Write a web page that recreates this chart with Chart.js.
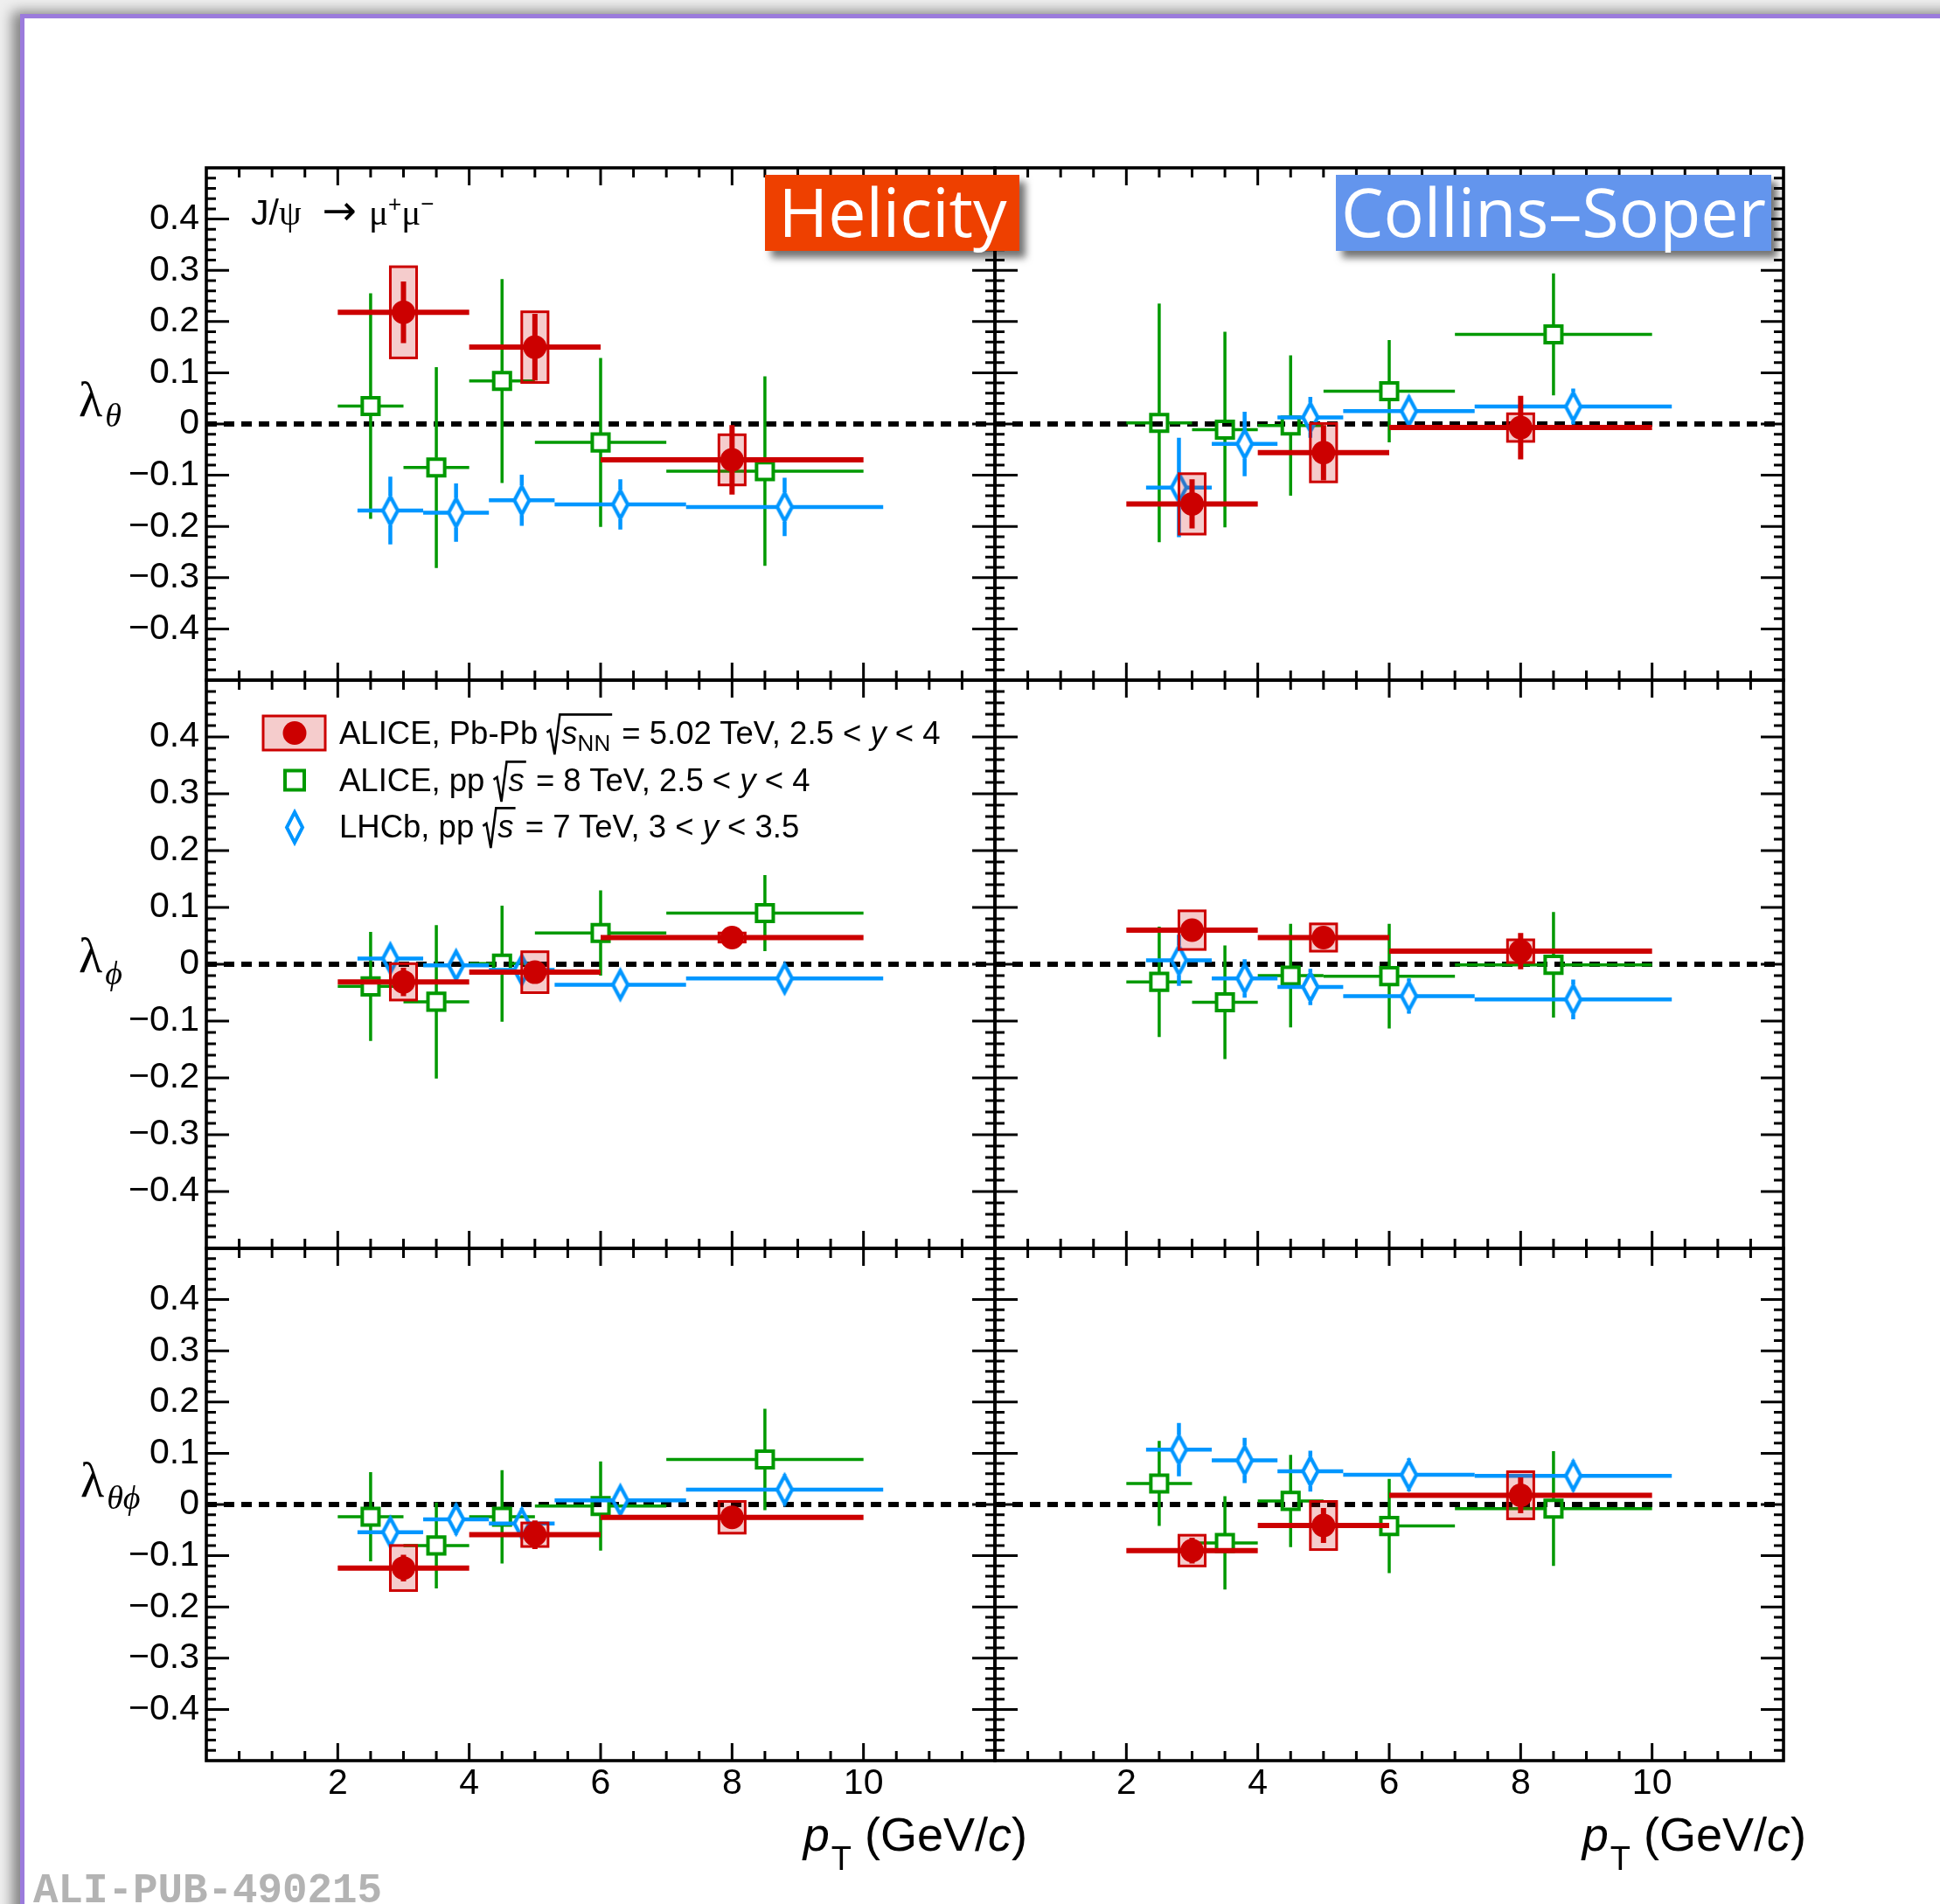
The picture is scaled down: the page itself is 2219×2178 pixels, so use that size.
<!DOCTYPE html>
<html>
<head>
<meta charset="utf-8">
<title>J/psi polarization vs pT</title>
<script src="https://cdn.jsdelivr.net/npm/chart.js@4.4.1/dist/chart.umd.min.js"></script>
<style>
  html, body { margin: 0; padding: 0; }
  body { width: 2219px; height: 2178px; overflow: hidden; position: relative; background: #efefef; }
  #slide { position: absolute; left: 23px; top: 16px; width: 2300px; height: 2300px; background: #fff;
           border-top: 5px solid #9b7bdc; border-left: 5px solid #9b7bdc;
           box-shadow: -9px -3px 14px rgba(0,0,0,0.45); }
  canvas { position: absolute; }
  #ov { position: absolute; left: 0; top: 0; }
</style>
</head>
<body>
<div id="slide"></div>
<canvas id="p00"></canvas>
<canvas id="p01"></canvas>
<canvas id="p10"></canvas>
<canvas id="p11"></canvas>
<canvas id="p20"></canvas>
<canvas id="p21"></canvas>
<svg id="ov" width="2219" height="2178" xmlns="http://www.w3.org/2000/svg">
  <defs>
    <filter id="shadow" x="-10%" y="-20%" width="130%" height="160%">
      <feDropShadow dx="7" dy="8" stdDeviation="4" flood-color="#000" flood-opacity="0.55"/>
    </filter>
  </defs>
</svg>
<script>
// pT bins (GeV/c)
const pbpbPt = [3, 5, 8];
const pbpbLo = [2, 4, 6];
const pbpbHi = [4, 6, 10];
const ppPt = [2.5, 3.5, 4.5, 6, 8.5];
const ppLo = [2, 3, 4, 5, 7];
const ppHi = [3, 4, 5, 7, 10];
// LHCb points are shifted by +0.3 GeV/c for visibility
const lhcbPt = [2.8, 3.8, 4.8, 6.3, 8.8];
const lhcbLo = [2.3, 3.3, 4.3, 5.3, 7.3];
const lhcbHi = [3.3, 4.3, 5.3, 7.3, 10.3];

const xTicks = [2, 4, 6, 8, 10];
const yTicks = [0.4, 0.3, 0.2, 0.1, 0, -0.1, -0.2, -0.3, -0.4];

// lambda_theta, helicity
const helThPbPb = [0.218, 0.150, -0.070];
const helThPbPbStat = [0.060, 0.065, 0.068];
const helThPbPbSys = [0.089, 0.069, 0.049];
const helThPp = [0.035, -0.085, 0.084, -0.036, -0.092];
const helThPpErr = [0.220, 0.196, 0.199, 0.165, 0.185];
const helThLhcb = [-0.169, -0.173, -0.149, -0.157, -0.162];
const helThLhcbErr = [0.066, 0.057, 0.050, 0.049, 0.057];

// lambda_theta, Collins-Soper
const csThPbPb = [-0.156, -0.056, -0.007];
const csThPbPbStat = [0.048, 0.054, 0.062];
const csThPbPbSys = [0.059, 0.057, 0.027];
const csThPp = [0.002, -0.011, -0.003, 0.064, 0.175];
const csThPpErr = [0.233, 0.191, 0.137, 0.100, 0.119];
const csThLhcb = [-0.124, -0.039, 0.013, 0.025, 0.034];
const csThLhcbErr = [0.097, 0.063, 0.040, 0.030, 0.035];

// lambda_phi, helicity
const helPhPbPb = [-0.031, -0.014, 0.047];
const helPhPbPbStat = [0.025, 0.020, 0.010];
const helPhPbPbSys = [0.032, 0.036, 0.008];
const helPhPp = [-0.039, -0.066, 0.001, 0.055, 0.090];
const helPhPpErr = [0.096, 0.135, 0.102, 0.075, 0.067];
const helPhLhcb = [0.010, -0.002, -0.010, -0.036, -0.025];
const helPhLhcbErr = [0.020, 0.020, 0.020, 0.020, 0.025];

// lambda_phi, Collins-Soper
const csPhPbPb = [0.060, 0.047, 0.023];
const csPhPbPbStat = [0.020, 0.015, 0.032];
const csPhPbPbSys = [0.034, 0.024, 0.020];
const csPhPp = [-0.031, -0.067, -0.020, -0.021, -0.001];
const csPhPpErr = [0.097, 0.100, 0.091, 0.092, 0.093];
const csPhLhcb = [0.007, -0.025, -0.040, -0.056, -0.062];
const csPhLhcbErr = [0.045, 0.034, 0.032, 0.031, 0.035];

// lambda_thetaphi, helicity
const helTpPbPb = [-0.124, -0.059, -0.025];
const helTpPbPbStat = [0.026, 0.028, 0.020];
const helTpPbPbSys = [0.044, 0.023, 0.031];
const helTpPp = [-0.024, -0.080, -0.024, -0.003, 0.088];
const helTpPpErr = [0.087, 0.084, 0.091, 0.087, 0.099];
const helTpLhcb = [-0.054, -0.029, -0.037, 0.008, 0.029];
const helTpLhcbErr = [0.025, 0.030, 0.030, 0.025, 0.030];

// lambda_thetaphi, Collins-Soper
const csTpPbPb = [-0.090, -0.041, 0.018];
const csTpPbPbStat = [0.025, 0.034, 0.035];
const csTpPbPbSys = [0.030, 0.047, 0.046];
const csTpPp = [0.041, -0.075, 0.007, -0.042, -0.008];
const csTpPpErr = [0.083, 0.091, 0.090, 0.092, 0.112];
const csTpLhcb = [0.107, 0.086, 0.065, 0.058, 0.056];
const csTpLhcbErr = [0.052, 0.044, 0.040, 0.032, 0.030];

const RED = '#cc0000';
const GREEN = '#009900';
const BLUE = '#0096ff';
const SANS = "'Liberation Sans', Arial, Helvetica, sans-serif";
const SERIF = "'Liberation Serif', 'Times New Roman', 'DejaVu Serif', serif";

Chart.defaults.font.family = SANS;
Chart.defaults.color = '#000';

// frame edges in page pixels
const colX = [236, 1138, 2040];
const rowY = [192, 778, 1428, 2014];

const panels = [
  { id: 'p00', row: 0, col: 0, pbpb: [helThPbPb, helThPbPbStat, helThPbPbSys], pp: [helThPp, helThPpErr], lhcb: [helThLhcb, helThLhcbErr] },
  { id: 'p01', row: 0, col: 1, pbpb: [csThPbPb, csThPbPbStat, csThPbPbSys], pp: [csThPp, csThPpErr], lhcb: [csThLhcb, csThLhcbErr] },
  { id: 'p10', row: 1, col: 0, pbpb: [helPhPbPb, helPhPbPbStat, helPhPbPbSys], pp: [helPhPp, helPhPpErr], lhcb: [helPhLhcb, helPhLhcbErr] },
  { id: 'p11', row: 1, col: 1, pbpb: [csPhPbPb, csPhPbPbStat, csPhPbPbSys], pp: [csPhPp, csPhPpErr], lhcb: [csPhLhcb, csPhLhcbErr] },
  { id: 'p20', row: 2, col: 0, pbpb: [helTpPbPb, helTpPbPbStat, helTpPbPbSys], pp: [helTpPp, helTpPpErr], lhcb: [helTpLhcb, helTpLhcbErr] },
  { id: 'p21', row: 2, col: 1, pbpb: [csTpPbPb, csTpPbPbStat, csTpPbPbSys], pp: [csTpPp, csTpPpErr], lhcb: [csTpLhcb, csTpLhcbErr] }
];

// open diamond marker, taller than wide like the ROOT one
function makeDiamond() {
  const c = document.createElement('canvas');
  c.width = 28; c.height = 42;
  const g = c.getContext('2d');
  g.strokeStyle = BLUE;
  g.lineWidth = 4.2;
  g.lineJoin = 'miter';
  g.beginPath();
  g.moveTo(14, 5); g.lineTo(22.5, 21); g.lineTo(14, 37); g.lineTo(5.5, 21);
  g.closePath();
  g.stroke();
  return c;
}
const diamond = makeDiamond();

// error bars (and systematic boxes) are drawn just before each dataset's markers
const errorBars = {
  id: 'errorBars',
  beforeDatasetDraw(chart, args) {
    const ds = chart.data.datasets[args.index];
    const { ctx, scales: { x, y } } = chart;
    ctx.save();
    ds.data.forEach((p, i) => {
      const px = x.getPixelForValue(p.x);
      const py = y.getPixelForValue(p.y);
      if (ds.sys) {
        const bx0 = x.getPixelForValue(p.x - 0.2), bx1 = x.getPixelForValue(p.x + 0.2);
        const by0 = y.getPixelForValue(p.y + ds.sys[i]), by1 = y.getPixelForValue(p.y - ds.sys[i]);
        ctx.fillStyle = 'rgba(204,0,0,0.2)';
        ctx.fillRect(bx0, by0, bx1 - bx0, by1 - by0);
        ctx.strokeStyle = RED;
        ctx.lineWidth = 3;
        ctx.strokeRect(bx0, by0, bx1 - bx0, by1 - by0);
      }
      const xl = x.getPixelForValue(ds.xLo[i]);
      const xh = x.getPixelForValue(ds.xHi[i]);
      const yt = y.getPixelForValue(p.y + ds.yErr[i]);
      const yb = y.getPixelForValue(p.y - ds.yErr[i]);
      ctx.strokeStyle = ds.errColor;
      ctx.lineWidth = ds.errWidth;
      ctx.lineCap = 'butt';
      ctx.beginPath();
      if (px - ds.gapX > xl) { ctx.moveTo(xl, py); ctx.lineTo(px - ds.gapX, py); }
      if (xh > px + ds.gapX) { ctx.moveTo(px + ds.gapX, py); ctx.lineTo(xh, py); }
      if (py - ds.gapY > yt) {
        ctx.moveTo(px, yt); ctx.lineTo(px, py - ds.gapY);
        ctx.moveTo(px, py + ds.gapY); ctx.lineTo(px, yb);
      }
      ctx.stroke();
    });
    ctx.restore();
  }
};

// ROOT-like frame: inward ticks on all four sides, dashed zero line
const rootFrame = {
  id: 'rootFrame',
  beforeDatasetsDraw(chart) {
    const { ctx, chartArea: a, scales: { y } } = chart;
    const y0 = y.getPixelForValue(0);
    ctx.save();
    ctx.strokeStyle = '#000';
    ctx.lineWidth = 6;
    ctx.setLineDash([12, 8]);
    ctx.beginPath();
    ctx.moveTo(a.left, y0);
    ctx.lineTo(a.right, y0);
    ctx.stroke();
    ctx.restore();
  },
  afterDatasetsDraw(chart) {
    const { ctx, chartArea: a, scales: { x, y } } = chart;
    ctx.save();
    ctx.strokeStyle = '#000';
    ctx.lineWidth = 3;
    ctx.beginPath();
    for (let i = 1; i < 24; i++) {
      const px = x.getPixelForValue(i * 0.5);
      const len = i % 4 === 0 ? 20 : 11;
      ctx.moveTo(px, a.bottom); ctx.lineTo(px, a.bottom - len);
      ctx.moveTo(px, a.top); ctx.lineTo(px, a.top + len);
    }
    for (let i = -24; i <= 24; i++) {
      const py = y.getPixelForValue(i * 0.02);
      const len = i % 5 === 0 ? 26 : 11;
      ctx.moveTo(a.left, py); ctx.lineTo(a.left + len, py);
      ctx.moveTo(a.right, py); ctx.lineTo(a.right - len, py);
    }
    ctx.stroke();
    ctx.lineWidth = 3.6;
    ctx.strokeRect(a.left, a.top, a.right - a.left, a.bottom - a.top);
    ctx.restore();
  }
};

function pts(xs, ys) {
  return xs.map((v, i) => ({ x: v, y: ys[i] }));
}

function fmtY(v) {
  if (Math.abs(v) < 1e-9) return '0';
  return (v < 0 ? '\u2212' : '') + Math.abs(v).toFixed(1);
}

panels.forEach(p => {
  const fx0 = colX[p.col], fx1 = colX[p.col + 1];
  const fy0 = rowY[p.row], fy1 = rowY[p.row + 1];
  const showY = p.col === 0;
  const showX = p.row === 2;
  const padL = showY ? 140 : 40;
  const padR = 40, padT = 40;
  const padB = showX ? 70 : 40;

  const cv = document.getElementById(p.id);
  cv.width = fx1 - fx0 + padL + padR;
  cv.height = fy1 - fy0 + padT + padB;
  cv.style.left = (fx0 - padL) + 'px';
  cv.style.top = (fy0 - padT) + 'px';

  new Chart(cv, {
    type: 'scatter',
    data: {
      datasets: [
        {
          label: 'ALICE Pb-Pb',
          data: pts(pbpbPt, p.pbpb[0]),
          xLo: pbpbLo, xHi: pbpbHi, yErr: p.pbpb[1], sys: p.pbpb[2],
          errColor: RED, errWidth: 6, gapX: 0, gapY: 0,
          pointStyle: 'circle', pointRadius: 13.5,
          pointBackgroundColor: RED, pointBorderColor: RED, pointBorderWidth: 0
        },
        {
          label: 'LHCb pp',
          data: pts(lhcbPt, p.lhcb[0]),
          xLo: lhcbLo, xHi: lhcbHi, yErr: p.lhcb[1],
          errColor: BLUE, errWidth: 4.5, gapX: 9, gapY: 17,
          pointStyle: diamond, pointRadius: 10
        },
        {
          label: 'ALICE pp',
          data: pts(ppPt, p.pp[0]),
          xLo: ppLo, xHi: ppHi, yErr: p.pp[1],
          errColor: GREEN, errWidth: 3.5, gapX: 11, gapY: 11,
          pointStyle: 'rect', pointRadius: 13.5,
          pointBackgroundColor: 'rgba(0,0,0,0)', pointBorderColor: GREEN, pointBorderWidth: 4
        }
      ]
    },
    options: {
      responsive: false,
      animation: false,
      devicePixelRatio: 1,
      events: [],
      layout: { padding: { left: showY ? 0 : padL, right: padR, top: padT, bottom: showX ? 0 : padB } },
      plugins: { legend: { display: false }, tooltip: { enabled: false } },
      scales: {
        x: {
          type: 'linear', min: 0, max: 12, display: showX,
          grid: { display: false, drawTicks: false },
          border: { display: false },
          afterBuildTicks: s => { s.ticks = xTicks.map(v => ({ value: v })); },
          afterFit: s => { if (showX) s.height = padB; },
          ticks: { font: { size: 41 }, color: '#000', padding: 2, maxRotation: 0, autoSkip: false }
        },
        y: {
          type: 'linear', min: -0.5, max: 0.5, display: showY,
          grid: { display: false, drawTicks: false },
          border: { display: false },
          afterBuildTicks: s => { s.ticks = yTicks.map(v => ({ value: v })); },
          afterFit: s => { if (showY) s.width = padL; },
          ticks: { font: { size: 41 }, color: '#000', padding: 8, autoSkip: false, callback: v => fmtY(v) }
        }
      }
    },
    plugins: [rootFrame, errorBars]
  });
});

// ---- text and labels on an svg layer ----
const svg = document.getElementById('ov');
const NS = 'http://www.w3.org/2000/svg';
function el(tag, attrs, parent) {
  const e = document.createElementNS(NS, tag);
  for (const k in attrs) e.setAttribute(k, attrs[k]);
  (parent || svg).appendChild(e);
  return e;
}

// pieces laid out one after another; {rad:'open'} / {rad:'close'} wrap a square root
function richText(x, y, parts, opts) {
  const g = el('g', {});
  const size = opts.size;
  let cx = 0, radStart = 0;
  parts.forEach(p => {
    if (p.rad === 'open') { radStart = cx; cx += 17; return; }
    if (p.rad === 'close') {
      const top = -size * 0.92;
      el('path', {
        d: `M${radStart},${-size * 0.36} L${radStart + 4},${-size * 0.44} L${radStart + 9},${size * 0.33} L${radStart + 15},${top} L${cx + 2},${top}`,
        fill: 'none', stroke: '#000', 'stroke-width': 2.6, 'stroke-linejoin': 'miter'
      }, g);
      cx += 3;
      return;
    }
    cx += p.before || 0;
    const t = el('text', {
      x: cx, y: p.dy || 0,
      'font-size': p.size || size,
      'font-family': p.font || opts.font || SANS,
      'font-style': p.italic ? 'italic' : 'normal',
      fill: opts.color || '#000',
      style: 'white-space:pre'
    }, g);
    t.textContent = p.t;
    cx += t.getComputedTextLength();
  });
  const shift = opts.anchor === 'end' ? -cx : 0;
  g.setAttribute('transform', `translate(${x + shift},${y})`);
}

// frame labels
el('rect', { x: 875, y: 200, width: 291, height: 87, fill: '#ee4000', filter: 'url(#shadow)' });
el('text', { x: 1021, y: 271, 'font-size': 77, 'font-family': "'Open Sans', 'Noto Sans', sans-serif", fill: '#fff', 'text-anchor': 'middle' }).textContent = 'Helicity';
el('rect', { x: 1528, y: 200, width: 498, height: 87, fill: '#6495ed', filter: 'url(#shadow)' });
el('text', { x: 1777, y: 271, 'font-size': 77, 'font-family': "'Open Sans', 'Noto Sans', sans-serif", fill: '#fff', 'text-anchor': 'middle' }).textContent = 'Collins\u2013Soper';

// decay channel
richText(287, 257, [
  { t: 'J/' }, { t: '\u03c8', font: SERIF },
  { t: '\u2192', font: "'DejaVu Sans', sans-serif", size: 47, before: 24 },
  { t: '\u03bc', font: SERIF, before: 14 }, { t: '+', size: 26, dy: -15 },
  { t: '\u03bc', font: SERIF }, { t: '\u2212', size: 26, dy: -15 }
], { size: 41 });

// y titles
richText(90, 476, [{ t: '\u03bb', font: SERIF }, { t: '\u03b8', font: SERIF, italic: true, size: 38, dy: 12, before: 3 }], { size: 56 });
richText(90, 1112, [{ t: '\u03bb', font: SERIF }, { t: '\u03d5', font: SERIF, italic: true, size: 38, dy: 14, before: 3 }], { size: 56 });
richText(92, 1712, [{ t: '\u03bb', font: SERIF }, { t: '\u03b8\u03d5', font: SERIF, italic: true, size: 38, dy: 14, before: 3 }], { size: 56 });

// x titles
const ptTitle = [{ t: 'p', italic: true }, { t: 'T', size: 38, dy: 22, before: 2 }, { t: ' (GeV/' }, { t: 'c', italic: true }, { t: ')' }];
richText(1175, 2117, ptTitle, { size: 54, anchor: 'end' });
richText(2066, 2117, ptTitle, { size: 54, anchor: 'end' });

// legend
el('rect', { x: 301, y: 819, width: 71, height: 39, fill: 'rgba(204,0,0,0.2)', stroke: RED, 'stroke-width': 3 });
el('circle', { cx: 337, cy: 838.5, r: 13.5, fill: RED });
el('rect', { x: 326, y: 881.5, width: 22, height: 22, fill: 'none', stroke: GREEN, 'stroke-width': 4 });
el('path', { d: 'M337,929 L346,946.5 L337,964 L328,946.5 Z', fill: 'none', stroke: BLUE, 'stroke-width': 4 });

richText(388, 851, [
  { t: 'ALICE, Pb-Pb ' }, { rad: 'open' }, { t: 's', italic: true }, { t: 'NN', size: 26, dy: 8 }, { rad: 'close' },
  { t: ' = 5.02 TeV, 2.5 < ' }, { t: 'y', italic: true }, { t: ' < 4' }
], { size: 36.5 });
richText(388, 905, [
  { t: 'ALICE, pp ' }, { rad: 'open' }, { t: 's', italic: true }, { rad: 'close' },
  { t: ' = 8 TeV, 2.5 < ' }, { t: 'y', italic: true }, { t: ' < 4' }
], { size: 36.5 });
richText(388, 958, [
  { t: 'LHCb, pp ' }, { rad: 'open' }, { t: 's', italic: true }, { rad: 'close' },
  { t: ' = 7 TeV, 3 < ' }, { t: 'y', italic: true }, { t: ' < 3.5' }
], { size: 36.5 });

// figure id
el('text', { x: 38, y: 2176, 'font-size': 47.5, 'font-weight': 'bold', 'font-family': "'Liberation Mono', 'DejaVu Sans Mono', monospace", fill: '#b3b3b3' }).textContent = 'ALI-PUB-490215';
</script>
</body>
</html>
